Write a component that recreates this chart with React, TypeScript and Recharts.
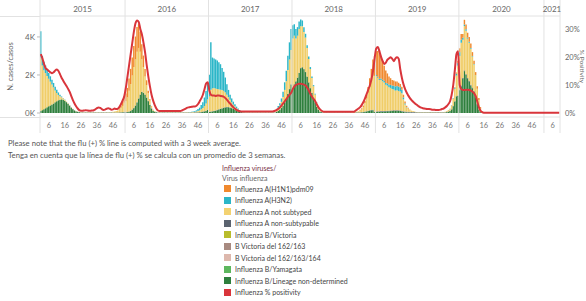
import { ComposedChart, Bar, Line, XAxis, YAxis, ReferenceLine } from 'recharts'

// weekly surveillance, 2015 w1 .. 2021 w10
const years = [2015, 2016, 2017, 2018, 2019, 2020, 2021]
const weeksPerYear = [53, 52, 52, 52, 52, 53, 10]
const weekTicks = [6, 16, 26, 36, 46]
const leftTicks = [0, 2000, 4000]
const rightTicks = [0, 10, 20, 30]

// Influenza B/Lineage non-determined
const bLnd = [
  100, 150, 200, 250, 300, 350, 400, 450, 500, 560, 620, 670, 700, 720, 700, 650, 570, 470, 380, 280, 200, 130, 80, 50, 35, 15, 15, 15, 15, 15, 15, 15, 15, 15, 15, 15, 15, 15, 15, 15, 15, 15, 15, 15, 15, 15, 15, 15, 15, 20, 25, 30, 40,
  30, 40, 60, 100, 160, 250, 380, 550, 750, 950, 1100, 1050, 950, 800, 620, 420, 230, 100, 50, 30, 15, 15, 15, 15, 15, 15, 15, 15, 15, 15, 15, 15, 15, 15, 15, 15, 15, 15, 15, 15, 15, 15, 15, 20, 20, 25, 30, 40, 60, 80, 110, 160,
  50, 60, 80, 100, 120, 150, 180, 210, 240, 270, 290, 300, 300, 280, 250, 210, 170, 130, 90, 60, 40, 30, 15, 15, 15, 15, 15, 15, 15, 15, 15, 15, 15, 15, 15, 15, 15, 15, 15, 15, 15, 15, 60, 110, 170, 260, 380, 550, 750, 1000, 1250, 1500,
  1300, 1500, 1650, 1850, 2100, 2350, 2400, 2300, 2150, 1900, 1600, 1300, 1050, 800, 550, 320, 170, 70, 40, 15, 15, 15, 15, 15, 15, 15, 15, 15, 15, 15, 15, 15, 15, 15, 15, 15, 15, 15, 15, 15, 20, 20, 25, 30, 40, 60, 80, 100, 120, 140, 150,
  50, 50, 60, 60, 70, 70, 80, 80, 90, 90, 100, 100, 110, 110, 110, 110, 100, 80, 60, 45, 35, 30, 25, 20, 20, 15, 15, 15, 15, 15, 15, 15, 15, 15, 15, 15, 15, 15, 15, 15, 15, 15, 15, 15, 25, 40, 60, 100, 180, 350, 600, 870,
  900, 1200, 1400, 1800, 2200, 2000, 1800, 1650, 1450, 1300, 1100, 800, 450, 180, 40, 0, 0, 0, 0, 0, 0, 0, 0, 0, 0, 0, 0, 0, 0, 0, 0, 0, 0, 0, 0, 0, 0, 0, 0, 0, 0, 0, 0, 0, 0, 0, 0, 0, 0, 0, 0, 0, 0,
  0, 0, 0, 0, 0, 0, 0, 0, 0, 0,
]

// Influenza A non-subtypable
const aNonSub = [
  0, 0, 0, 0, 0, 0, 0, 0, 0, 0, 0, 0, 0, 0, 0, 0, 0, 15, 15, 15, 15, 15, 15, 15, 15, 15, 15, 15, 15, 15, 15, 15, 15, 15, 15, 15, 15, 15, 15, 15, 15, 15, 15, 15, 15, 15, 15, 15, 15, 15, 15, 15, 15,
  20, 20, 20, 20, 20, 20, 20, 20, 20, 20, 20, 20, 20, 20, 20, 20, 20, 20, 20, 20, 15, 15, 15, 15, 15, 15, 15, 15, 15, 15, 15, 15, 15, 15, 15, 15, 15, 15, 15, 15, 15, 15, 15, 15, 15, 15, 15, 15, 15, 15, 15, 15,
  15, 15, 15, 15, 15, 15, 15, 15, 15, 15, 15, 15, 15, 15, 15, 15, 15, 15, 15, 15, 15, 15, 15, 15, 15, 15, 15, 15, 15, 15, 15, 15, 15, 15, 15, 15, 15, 15, 15, 15, 15, 15, 15, 15, 15, 15, 15, 15, 15, 15, 15, 15,
  15, 15, 15, 15, 15, 15, 15, 15, 15, 15, 15, 15, 15, 15, 15, 15, 15, 15, 15, 15, 15, 15, 15, 15, 15, 15, 15, 15, 15, 15, 15, 15, 15, 15, 15, 15, 15, 15, 15, 15, 15, 15, 15, 15, 15, 15, 15, 20, 20, 20, 20, 20,
  30, 30, 30, 30, 30, 30, 30, 30, 30, 30, 30, 30, 30, 30, 30, 30, 30, 30, 35, 35, 35, 35, 35, 35, 35, 20, 20, 20, 20, 20, 20, 20, 20, 20, 20, 20, 20, 20, 20, 20, 20, 20, 20, 20, 20, 20, 20, 20, 20, 20, 20, 20,
  40, 40, 40, 40, 40, 40, 40, 40, 40, 40, 40, 40, 20, 10, 0, 0, 0, 0, 0, 0, 0, 0, 0, 0, 0, 0, 0, 0, 0, 0, 0, 0, 0, 0, 0, 0, 0, 0, 0, 0, 0, 0, 0, 0, 0, 0, 0, 0, 0, 0, 0, 0, 0,
  0, 0, 0, 0, 0, 0, 0, 0, 0, 0,
]

// Influenza A not subtyped
const aNotSub = [
  2800, 2350, 2050, 1850, 1650, 1450, 1250, 1050, 850, 620, 430, 280, 180, 110, 70, 50, 30, 30, 20, 10, 10, 10, 10, 10, 10, 10, 10, 10, 10, 10, 10, 10, 10, 10, 10, 10, 10, 10, 10, 10, 10, 10, 10, 10, 10, 30, 50, 70, 100, 150, 240, 330, 480,
  570, 760, 1090, 1400, 1790, 2150, 2420, 2650, 2650, 2250, 1700, 1350, 950, 650, 400, 220, 100, 40, 30, 20, 10, 10, 10, 10, 10, 10, 10, 10, 10, 10, 10, 10, 10, 10, 10, 10, 10, 10, 10, 10, 15, 20, 25, 30, 45, 70, 95, 140, 190, 270, 380, 540,
  800, 1150, 1200, 1200, 1150, 1100, 1050, 1000, 950, 880, 780, 650, 520, 400, 300, 220, 160, 110, 80, 50, 30, 20, 10, 10, 10, 10, 10, 10, 10, 10, 10, 10, 10, 10, 10, 10, 10, 10, 10, 10, 10, 10, 90, 150, 210, 310, 450, 650, 900, 1250, 1550, 1800,
  2600, 2550, 2250, 2200, 2300, 2200, 2150, 1950, 1800, 1500, 1230, 1000, 770, 590, 410, 210, 130, 50, 30, 10, 10, 10, 10, 10, 10, 10, 10, 10, 10, 10, 10, 10, 10, 10, 10, 10, 10, 20, 30, 45, 40, 55, 95, 150, 265, 445, 665, 950, 1230, 1510, 1790, 1880,
  1870, 1770, 1650, 1640, 1570, 1490, 1370, 1320, 1240, 1190, 1130, 1090, 1040, 1050, 1020, 1000, 930, 630, 370, 225, 175, 110, 70, 45, 30, 15, 15, 15, 15, 15, 15, 15, 15, 15, 15, 15, 15, 15, 15, 15, 15, 15, 15, 15, 50, 75, 95, 185, 360, 650, 1080, 1560,
  1760, 2260, 2010, 2330, 2290, 2070, 2010, 1890, 1630, 1410, 1150, 790, 490, 190, 40, 0, 0, 0, 0, 0, 0, 0, 0, 0, 0, 0, 0, 0, 0, 0, 0, 0, 0, 0, 0, 0, 0, 0, 0, 0, 0, 0, 0, 0, 0, 0, 0, 0, 0, 0, 0, 0, 0,
  0, 0, 0, 0, 0, 0, 0, 0, 0, 0,
]

// Influenza A(H3N2)
const h3n2 = [
  1400, 500, 450, 400, 350, 300, 280, 250, 230, 200, 170, 130, 80, 40, 20, 10, 0, 0, 0, 0, 0, 0, 0, 0, 0, 0, 0, 0, 0, 0, 0, 0, 0, 0, 0, 0, 0, 0, 0, 0, 0, 0, 0, 0, 0, 0, 0, 0, 0, 0, 0, 0, 0,
  0, 0, 0, 0, 0, 0, 0, 0, 0, 0, 0, 0, 0, 0, 0, 0, 0, 0, 0, 0, 0, 0, 0, 0, 0, 0, 0, 0, 0, 0, 0, 0, 0, 0, 0, 0, 0, 0, 0, 0, 10, 15, 20, 35, 60, 100, 140, 220, 300, 450, 650, 900,
  1150, 2490, 1620, 1550, 1530, 1500, 1420, 1340, 1160, 1000, 780, 550, 380, 270, 200, 150, 110, 80, 50, 30, 20, 10, 0, 0, 0, 0, 0, 0, 0, 0, 0, 0, 0, 0, 0, 0, 0, 0, 0, 0, 0, 0, 50, 90, 120, 180, 270, 400, 550, 750, 900, 1100,
  700, 600, 500, 450, 400, 350, 300, 250, 200, 150, 120, 100, 80, 60, 40, 20, 0, 0, 0, 0, 0, 0, 0, 0, 0, 0, 0, 0, 0, 0, 0, 0, 0, 0, 0, 0, 0, 0, 0, 0, 0, 0, 0, 0, 0, 0, 0, 0, 0, 0, 0, 0,
  50, 50, 60, 70, 80, 90, 100, 120, 140, 160, 180, 200, 220, 230, 230, 220, 180, 100, 50, 25, 0, 0, 0, 0, 0, 0, 0, 0, 0, 0, 0, 0, 0, 0, 0, 0, 0, 0, 0, 0, 0, 0, 0, 0, 0, 5, 10, 15, 30, 60, 100, 150,
  200, 150, 100, 80, 70, 60, 50, 40, 30, 20, 10, 0, 0, 0, 0, 0, 0, 0, 0, 0, 0, 0, 0, 0, 0, 0, 0, 0, 0, 0, 0, 0, 0, 0, 0, 0, 0, 0, 0, 0, 0, 0, 0, 0, 0, 0, 0, 0, 0, 0, 0, 0, 0,
  0, 0, 0, 0, 0, 0, 0, 0, 0, 0,
]

// Influenza A(H1N1)pdm09
const h1n1 = [
  0, 0, 0, 0, 0, 0, 0, 0, 0, 0, 0, 0, 0, 0, 0, 0, 0, 0, 0, 0, 0, 0, 0, 0, 0, 0, 0, 0, 0, 0, 0, 0, 0, 0, 0, 0, 0, 0, 0, 0, 0, 0, 0, 0, 0, 0, 0, 0, 0, 60, 120, 200, 330,
  400, 500, 650, 800, 950, 1100, 1200, 1300, 1250, 1050, 800, 600, 400, 250, 130, 60, 20, 10, 0, 0, 0, 0, 0, 0, 0, 0, 0, 0, 0, 0, 0, 0, 0, 0, 0, 0, 0, 0, 0, 0, 0, 0, 0, 0, 0, 0, 0, 0, 0, 0, 0, 0, 0, 0,
  0, 0, 0, 0, 0, 0, 0, 0, 0, 0, 0, 0, 0, 0, 0, 0, 0, 0, 0, 0, 0, 0, 0, 0, 0, 0, 0, 0, 0, 0, 0, 0, 0, 0, 0, 0, 0, 0, 0, 0, 0, 0, 0, 0, 0, 0, 0, 0, 0, 0, 0, 0,
  0, 0, 0, 0, 0, 0, 0, 0, 0, 0, 0, 0, 0, 0, 0, 0, 0, 0, 0, 0, 0, 0, 0, 0, 0, 0, 0, 0, 0, 0, 0, 0, 0, 0, 0, 0, 0, 0, 0, 0, 30, 50, 70, 110, 190, 300, 460, 650, 850, 1050, 1250, 1350,
  1500, 1200, 1000, 800, 650, 520, 420, 350, 300, 280, 260, 230, 200, 180, 160, 140, 110, 60, 30, 15, 0, 0, 0, 0, 0, 0, 0, 0, 0, 0, 0, 0, 0, 0, 0, 0, 0, 0, 0, 0, 0, 0, 0, 0, 5, 10, 15, 30, 60, 120, 200, 300,
  200, 250, 250, 250, 250, 230, 200, 180, 150, 130, 100, 70, 40, 20, 0, 0, 0, 0, 0, 0, 0, 0, 0, 0, 0, 0, 0, 0, 0, 0, 0, 0, 0, 0, 0, 0, 0, 0, 0, 0, 0, 0, 0, 0, 0, 0, 0, 0, 0, 0, 0, 0, 0,
  0, 0, 0, 0, 0, 0, 0, 0, 0, 0,
]

// % positivity, 3 week average
const positivity = [
  21, 19.5, 17.5, 16, 15.5, 15, 14.5, 14.2, 14.5, 15.2, 15.5, 15, 13.8, 12.5, 11.5, 10.5, 9.6, 8.6, 7.5, 6, 4.6, 3.4, 2.4, 1.6, 1, 0.8, 0.8, 0.9, 1, 0.9, 0.8, 0.8, 0.9, 1, 1.3, 1.7, 2, 1.8, 1.4, 1.1, 1.2, 1.5, 1.7, 1.5, 1.2, 1.3, 1.6, 1.4, 1.5, 2.2, 3.2, 4.5, 6,
  9, 13, 17, 21, 25, 29, 32, 33, 32.5, 30, 28, 25, 21.5, 17, 13, 9.5, 6.5, 4.4, 2.8, 1.6, 0.9, 0.7, 0.7, 0.7, 0.7, 0.7, 0.7, 0.7, 0.7, 0.7, 0.7, 0.7, 0.7, 0.7, 0.7, 0.9, 1.2, 1.5, 1.8, 2, 2.1, 2.2, 2.3, 2.3, 2.6, 3.2, 4.2, 5.2, 6.5, 8.5, 10.5, 11,
  8, 6.5, 6.2, 6.2, 6.1, 6.2, 6.2, 6.1, 6, 5.8, 5.3, 4.7, 4, 3.3, 2.6, 2, 1.5, 1.1, 0.8, 0.6, 0.5, 0.5, 0.5, 0.5, 0.5, 0.5, 0.5, 0.5, 0.5, 0.5, 0.5, 0.5, 0.5, 0.5, 0.5, 0.5, 0.5, 0.5, 0.5, 0.5, 0.6, 0.8, 1.1, 1.5, 2, 2.7, 3.4, 4.2, 5, 5.8, 6.5, 7.2,
  8.5, 9.5, 10, 10.3, 10.4, 10.4, 10.3, 10.1, 9.8, 9, 8, 6.8, 5.8, 5, 4.2, 3, 2, 1.3, 0.8, 0.5, 0.4, 0.4, 0.4, 0.4, 0.4, 0.4, 0.4, 0.4, 0.4, 0.4, 0.4, 0.4, 0.4, 0.4, 0.4, 0.4, 0.4, 0.4, 0.4, 0.8, 1.2, 1.6, 2.1, 2.9, 3.9, 5.2, 6.7, 8.3, 9.8, 12, 15, 19.5,
  23, 23.5, 22, 20, 18.5, 17.5, 18, 19, 19.5, 19.9, 19.3, 18.5, 19.5, 19.9, 19.3, 15.5, 12.5, 10.2, 8.5, 7.2, 6.2, 5.3, 4.6, 4, 3.5, 3, 2.6, 2.2, 1.9, 1.7, 1.6, 1.5, 1.4, 1.4, 1.3, 1.2, 1.2, 1.1, 1.1, 1.1, 1.2, 1.4, 1.6, 2, 2.5, 3.2, 4.2, 6.5, 10, 15.5, 21, 22,
  10, 8.5, 8.2, 8.2, 8.3, 8.3, 8.2, 8, 7.6, 7, 6, 4, 2, 0.8, 0.3, 0.1, 0.1, 0.1, 0.1, 0.1, 0.1, 0.1, 0.1, 0.1, 0.1, 0.1, 0.1, 0.1, 0.1, 0.1, 0.1, 0.1, 0.1, 0.1, 0.1, 0.1, 0.1, 0.1, 0.1, 0.1, 0.1, 0.1, 0.1, 0.1, 0.1, 0.1, 0.1, 0.1, 0.1, 0.1, 0.1, 0.1, 0.1,
  0.1, 0.1, 0.1, 0.1, 0.1, 0.1, 0.1, 0.1, 0.1, 0.1,
]

const legendItems = [
  { name: 'Influenza A(H1N1)pdm09', color: '#F0892E' },
  { name: 'Influenza A(H3N2)', color: '#2BB6C8' },
  { name: 'Influenza A not subtyped', color: '#F3D271' },
  { name: 'Influenza A non-subtypable', color: '#5B636F' },
  { name: 'Influenza B/Victoria', color: '#B8BC2C' },
  { name: 'B Victoria del 162/163', color: '#A88A80' },
  { name: 'B Victoria del 162/163/164', color: '#DDB8AD' },
  { name: 'Influenza B/Yamagata', color: '#5DB75E' },
  { name: 'Influenza B/Lineage non-determined', color: '#2E7F3D' },
  { name: 'Influenza % positivity', color: '#D9353B' },
]

const FONT = 'Lato, "Liberation Sans", sans-serif'
const GRID = '#e2e2e2'

const yearStarts: number[] = []
weeksPerYear.reduce((acc, n) => { yearStarts.push(acc); return acc + n }, 0)
const totalWeeks = weeksPerYear.reduce((a, b) => a + b, 0)
const boundaries = [...yearStarts, totalWeeks]
const yearMids = yearStarts.map((s, i) => s + weeksPerYear[i] / 2)

const data: any[] = []
years.forEach((yr, yi) => {
  for (let w = 1; w <= weeksPerYear[yi]; w++) {
    const i = yearStarts[yi] + w - 1
    data.push({ x: i + 0.5, year: yr, week: w, bLnd: bLnd[i], aNonSub: aNonSub[i], aNotSub: aNotSub[i], h3n2: h3n2[i], h1n1: h1n1[i], pos: positivity[i] })
  }
})

const weekTickValues: number[] = []
yearStarts.forEach((s, i) => weekTicks.forEach(wt => { if (wt <= weeksPerYear[i]) weekTickValues.push(s + wt - 0.5) }))

const TopTick = ({ x, payload }: any) => {
  const v = payload.value
  if (boundaries.includes(v)) return <line x1={x} x2={x} y1={0} y2={16} stroke={GRID} />
  const yi = yearMids.indexOf(v)
  return <text x={x} y={12} textAnchor="middle" fontSize={8} fill="#666" fontFamily={FONT}>{years[yi]}</text>
}

const BottomTick = ({ x, payload }: any) => {
  const v = payload.value
  if (boundaries.includes(v)) return <line x1={x} x2={x} y1={117} y2={133} stroke={GRID} />
  return <text x={x} y={128} textAnchor="middle" fontSize={7.5} fill="#777" fontFamily={FONT}>{data[Math.floor(v)].week}</text>
}

export default function App() {
  return (
    <div style={{ position: 'absolute', left: 0, top: 0, width: 586, height: 301, background: '#fff', fontFamily: FONT }}>
      <div style={{ position: 'absolute', left: 0, top: 16, width: 40, height: 1, background: GRID }} />
      <div style={{ position: 'absolute', left: 0, top: 117, width: 40, height: 1, background: GRID }} />
      <ComposedChart width={586} height={133} data={data} margin={{ top: 0, right: 0, bottom: 0, left: 0 }}>
        <XAxis xAxisId="top" orientation="top" dataKey="x" type="number" domain={[0, totalWeeks]} ticks={[...boundaries, ...yearMids]} tick={TopTick} tickLine={false} axisLine={{ stroke: GRID }} height={16} interval={0} />
        <XAxis dataKey="x" type="number" domain={[0, totalWeeks]} ticks={[...boundaries, ...weekTickValues]} tick={BottomTick} tickLine={false} axisLine={{ stroke: GRID }} height={16} interval={0} />
        <YAxis yAxisId="left" domain={[-210, 5100]} ticks={leftTicks} tickFormatter={v => `${v / 1000}K`} width={40} axisLine={false} tickLine={{ stroke: '#bbb' }} tickSize={3} tick={{ fontSize: 8, fill: '#666', fontFamily: FONT }}
          label={{ value: 'N. cases/casos', angle: -90, position: 'insideLeft', offset: 10, style: { fontSize: 7.5, fill: '#666', fontFamily: FONT, textAnchor: 'middle' } }} />
        <YAxis yAxisId="right" orientation="right" domain={[-1.43, 34.6]} ticks={rightTicks} tickFormatter={v => `${v}%`} width={26} axisLine={false} tickLine={false} tickSize={3} tick={{ fontSize: 7.5, fill: '#666', fontFamily: FONT }}
          label={{ value: '% Positivity', angle: 90, position: 'insideRight', offset: 4, style: { fontSize: 6.5, fill: '#666', fontFamily: FONT, textAnchor: 'middle' } }} />
        {boundaries.map(b => <ReferenceLine key={b} x={b} yAxisId="left" stroke={GRID} />)}
        <Bar dataKey="bLnd" stackId="a" yAxisId="left" fill="#2E7F3D" barSize={2} isAnimationActive={false} />
        <Bar dataKey="aNonSub" stackId="a" yAxisId="left" fill="#5B636F" barSize={2} isAnimationActive={false} />
        <Bar dataKey="aNotSub" stackId="a" yAxisId="left" fill="#F0CD68" barSize={2} isAnimationActive={false} />
        <Bar dataKey="h3n2" stackId="a" yAxisId="left" fill="#2BB6C8" barSize={2} isAnimationActive={false} />
        <Bar dataKey="h1n1" stackId="a" yAxisId="left" fill="#F0892E" barSize={2} isAnimationActive={false} />
        <Line dataKey="pos" yAxisId="right" type="monotone" stroke="#D9353B" strokeWidth={2} dot={false} isAnimationActive={false} />
      </ComposedChart>
      <div style={{ position: 'absolute', left: 8, top: 137, fontSize: 7.7, lineHeight: '12px', color: '#555' }}>
        <div>Please note that the flu (+) % line is computed with a 3 week average.</div>
        <div>Tenga en cuenta que la línea de flu (+) % se calcula con un promedio de 3 semanas.</div>
      </div>
      <div style={{ position: 'absolute', left: 222, top: 163, fontSize: 7, color: '#444' }}>
        <div style={{ lineHeight: '10px', color: '#7a2f45' }}>Influenza viruses/</div>
        <div style={{ lineHeight: '10px', color: '#666' }}>Virus influenza</div>
        {legendItems.map(it => (
          <div key={it.name} style={{ display: 'flex', alignItems: 'center', height: 11.5, marginLeft: 2 }}>
            <span style={{ display: 'inline-block', width: 7, height: 7, background: it.color, marginRight: 4 }} />
            <span>{it.name}</span>
          </div>
        ))}
      </div>
    </div>
  )
}
